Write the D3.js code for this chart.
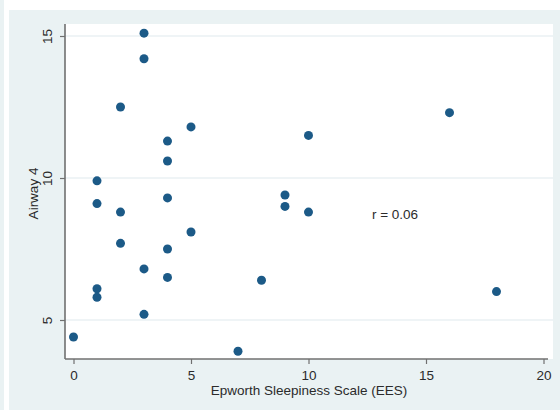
<!DOCTYPE html>
<html>
<head>
<meta charset="utf-8">
<script src="https://cdn.jsdelivr.net/npm/d3@7"></script>
<style>
  html, body { margin: 0; padding: 0; background: #ffffff; }
  svg { display: block; }
  text { font-family: "Liberation Sans", Arial, Helvetica, sans-serif; fill: #2b2b2b; }
</style>
</head>
<body>
<svg id="chart" width="560" height="410"></svg>
<script>
// Epworth Sleepiness Scale score for each subject
const eesScores = [0, 1, 1, 1, 1, 2, 2, 2, 3, 3, 3, 3, 4, 4, 4, 4, 4, 5, 5, 7, 8, 9, 9, 10, 10, 16, 18];
// Airway 4 measurement for the same subjects
const airwayValues = [4.4, 9.9, 9.1, 6.1, 5.8, 12.5, 8.8, 7.7, 15.1, 14.2, 6.8, 5.2, 11.3, 10.6, 9.3, 7.5, 6.5, 11.8, 8.1, 3.9, 6.4, 9.4, 9.0, 11.5, 8.8, 12.3, 6.0];
const xTicks = [0, 5, 10, 15, 20];
const yTicks = [5, 10, 15];
const annotation = "r = 0.06";

const svg = d3.select("#chart");
const W = 560, H = 410;
const fontSize = 13.5;

// outer light panel
svg.append("rect").attr("x", 0).attr("y", 0).attr("width", 4).attr("height", H).attr("fill", "#eaf2f3");
svg.append("rect").attr("x", 9).attr("y", 10).attr("width", W - 9).attr("height", H - 10).attr("fill", "#eaf2f3");

const plot = { left: 65, right: 553, top: 24, bottom: 359 };
svg.append("rect")
  .attr("x", plot.left).attr("y", plot.top)
  .attr("width", plot.right - plot.left).attr("height", plot.bottom - plot.top)
  .attr("fill", "#ffffff");

const x = d3.scaleLinear().domain([0, 20]).range([73.5, 543.5]);
const y = d3.scaleLinear().domain([5, 15]).range([320, 36]);

// horizontal grid lines
svg.append("g").selectAll("line").data(yTicks).join("line")
  .attr("x1", plot.left).attr("x2", plot.right)
  .attr("y1", d => y(d)).attr("y2", d => y(d))
  .attr("stroke", "#eaf1f3").attr("stroke-width", 1.5);

// axes
const axisColor = "#707070";
const xAxis = svg.append("g").attr("transform", `translate(0,${plot.bottom})`)
  .call(d3.axisBottom(x).tickValues(xTicks).tickSize(5).tickPadding(6).tickFormat(d3.format("d")));
xAxis.select(".domain").attr("d", `M${plot.left},0H548`);
const yAxis = svg.append("g").attr("transform", `translate(${plot.left},0)`)
  .call(d3.axisLeft(y).tickValues(yTicks).tickSize(5).tickPadding(4).tickFormat(d3.format("d")));
yAxis.select(".domain").attr("d", `M0,${plot.top}V${plot.bottom}`);

[xAxis, yAxis].forEach(g => {
  g.select(".domain").attr("stroke", axisColor).attr("stroke-width", 1.6);
  g.selectAll(".tick line").attr("stroke", axisColor).attr("stroke-width", 1.2);
  g.selectAll(".tick text").attr("font-size", fontSize).attr("fill", "#2b2b2b")
    .style("font-family", "'Liberation Sans', Arial, sans-serif");
});
xAxis.selectAll(".tick text").attr("dy", "0.71em");
// rotated y tick labels
yAxis.selectAll(".tick text")
  .attr("text-anchor", "middle")
  .attr("transform", "rotate(-90)")
  .attr("x", 0).attr("y", -13).attr("dy", "0");

// axis titles
svg.append("text")
  .attr("x", (plot.left + plot.right) / 2).attr("y", 395)
  .attr("text-anchor", "middle").attr("font-size", fontSize)
  .text("Epworth Sleepiness Scale (EES)");
svg.append("text")
  .attr("transform", `translate(38,${(plot.top + plot.bottom) / 2 + 2}) rotate(-90)`)
  .attr("text-anchor", "middle").attr("font-size", fontSize)
  .text("Airway 4");

// scatter points
const points = eesScores.map((e, i) => ({ e, a: airwayValues[i] }));
svg.append("g").selectAll("circle").data(points).join("circle")
  .attr("cx", d => x(d.e)).attr("cy", d => y(d.a))
  .attr("r", 4.5).attr("fill", "#1c5a87");

// correlation annotation
svg.append("text")
  .attr("x", x(12.7)).attr("y", y(8.55))
  .attr("font-size", fontSize)
  .text(annotation);
</script>
</body>
</html>
